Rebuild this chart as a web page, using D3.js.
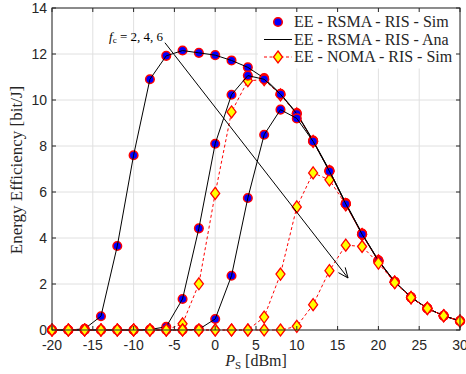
<!DOCTYPE html>
<html>
<head>
<meta charset="utf-8">
<script src="https://cdn.jsdelivr.net/npm/d3@7"></script>
<style>
  body { margin: 0; background: #fff; }
  svg text { font-family: "Liberation Sans", Arial, sans-serif; }
  .serif { font-family: "Liberation Serif", "Times New Roman", serif; }
</style>
</head>
<body>
<div id="chart"></div>
<script>
// transmit power in dBm
var powers = [-20, -18, -16, -14, -12, -10, -8, -6, -4, -2, 0, 2, 4, 6, 8, 10, 12, 14, 16, 18, 20, 22, 24, 26, 28, 30];

// RSMA (sim + analytic), one list per carrier frequency
var rsma_fc2 = [0, 0, 0.05, 0.6, 3.65, 7.6, 10.9, 11.92, 12.15, 12.05, 11.95, 11.72, 11.42, 10.95, 10.27, 9.43, 8.24, 6.94, 5.52, 4.19, 3.03, 2.1, 1.42, 0.94, 0.62, 0.39];
var rsma_fc4 = [0, 0, 0, 0, 0, 0, 0.02, 0.14, 1.35, 4.42, 8.1, 10.23, 11.06, 10.9, 10.25, 9.4, 8.22, 6.92, 5.5, 4.18, 3.02, 2.1, 1.42, 0.94, 0.62, 0.39];
var rsma_fc6 = [0, 0, 0, 0, 0, 0, 0, 0, 0, 0.03, 0.48, 2.36, 5.74, 8.49, 9.58, 9.2, 8.2, 6.9, 5.48, 4.16, 3.0, 2.09, 1.42, 0.94, 0.62, 0.39];

// NOMA sim
var noma_fc2 = [0, 0, 0, 0, 0, 0, 0, 0, 0.27, 2.01, 5.94, 9.48, 10.84, 10.88, 10.22, 9.4, 8.2, 6.9, 5.45, 4.15, 3.0, 2.08, 1.41, 0.94, 0.62, 0.39];
var noma_fc4 = [0, 0, 0, 0, 0, 0, 0, 0, 0, 0, 0, 0, 0, 0.56, 2.43, 5.35, 6.83, 6.53, 5.45, 4.15, 3.0, 2.08, 1.41, 0.94, 0.62, 0.39];
var noma_fc6 = [0, 0, 0, 0, 0, 0, 0, 0, 0, 0, 0, 0, 0, 0, 0, 0.16, 1.1, 2.58, 3.69, 3.63, 2.91, 2.06, 1.41, 0.94, 0.62, 0.39];

var xTicks = [-20, -15, -10, -5, 0, 5, 10, 15, 20, 25, 30];
var yTicks = [0, 2, 4, 6, 8, 10, 12, 14];
var legendLabels = ["EE - RSMA - RIS - Sim", "EE - RSMA - RIS - Ana", "EE - NOMA - RIS - Sim"];

var width = 466, height = 374;
var pL = 52, pR = 460, pT = 8, pB = 330;

var x = d3.scaleLinear().domain([-20, 30]).range([pL, pR]);
var y = d3.scaleLinear().domain([0, 14]).range([pB, pT]);

var svg = d3.select("#chart").append("svg")
    .attr("width", width)
    .attr("height", height);

// grid
svg.append("g").selectAll("line").data(xTicks).enter().append("line")
    .attr("x1", d => x(d)).attr("x2", d => x(d))
    .attr("y1", pT).attr("y2", pB)
    .attr("stroke", "#e0e0e0").attr("stroke-width", 1);
svg.append("g").selectAll("line").data(yTicks).enter().append("line")
    .attr("x1", pL).attr("x2", pR)
    .attr("y1", d => y(d)).attr("y2", d => y(d))
    .attr("stroke", "#e0e0e0").attr("stroke-width", 1);

// legend background (drawn before data so markers stay on top)
svg.append("rect")
    .attr("x", 258).attr("y", pT + 0.5)
    .attr("width", pR - 258 - 0.5).attr("height", 60)
    .attr("fill", "#fff");

var line = d3.line()
    .x((d, i) => x(powers[i]))
    .y(d => y(d));

function drawCircles(vals) {
    svg.append("g").selectAll("circle").data(vals).enter().append("circle")
        .attr("cx", (d, i) => x(powers[i]))
        .attr("cy", d => y(d))
        .attr("r", 4.3)
        .attr("fill", "#0000ff")
        .attr("stroke", "#ff0000")
        .attr("stroke-width", 1.5);
}

function diamondPath(cx, cy) {
    return "M" + cx + "," + (cy - 6) + "L" + (cx + 4.5) + "," + cy +
        "L" + cx + "," + (cy + 6) + "L" + (cx - 4.5) + "," + cy + "Z";
}

function drawNoma(vals) {
    svg.append("path")
        .attr("d", line(vals))
        .attr("fill", "none")
        .attr("stroke", "#ff0000")
        .attr("stroke-width", 1)
        .attr("stroke-dasharray", "3,2.5");
    svg.append("g").selectAll("path").data(vals).enter().append("path")
        .attr("d", (d, i) => diamondPath(x(powers[i]), y(d)))
        .attr("fill", "#ffff00")
        .attr("stroke", "#ff0000")
        .attr("stroke-width", 1.3);
}

function drawAna(vals) {
    svg.append("path")
        .attr("d", line(vals))
        .attr("fill", "none")
        .attr("stroke", "#000")
        .attr("stroke-width", 1);
}

[[rsma_fc2, noma_fc2], [rsma_fc4, noma_fc4], [rsma_fc6, noma_fc6]].forEach(function (pair) {
    drawCircles(pair[0]);
    drawAna(pair[0]);
    drawNoma(pair[1]);
});

// box + inward ticks
var axisColor = "#262626";
svg.append("rect")
    .attr("x", pL).attr("y", pT)
    .attr("width", pR - pL).attr("height", pB - pT)
    .attr("fill", "none").attr("stroke", axisColor).attr("stroke-width", 1);

var tk = 4;
xTicks.forEach(function (t) {
    svg.append("line").attr("x1", x(t)).attr("x2", x(t)).attr("y1", pB).attr("y2", pB - tk).attr("stroke", axisColor);
    svg.append("line").attr("x1", x(t)).attr("x2", x(t)).attr("y1", pT).attr("y2", pT + tk).attr("stroke", axisColor);
    svg.append("text").attr("x", x(t)).attr("y", pB + 20)
        .attr("text-anchor", "middle").attr("font-size", 14).attr("fill", axisColor)
        .text(t < 0 ? "-" + Math.abs(t) : t);
});
yTicks.forEach(function (t) {
    svg.append("line").attr("x1", pL).attr("x2", pL + tk).attr("y1", y(t)).attr("y2", y(t)).attr("stroke", axisColor);
    svg.append("line").attr("x1", pR).attr("x2", pR - tk).attr("y1", y(t)).attr("y2", y(t)).attr("stroke", axisColor);
    svg.append("text").attr("x", pL - 5).attr("y", y(t) + 5)
        .attr("text-anchor", "end").attr("font-size", 14).attr("fill", axisColor)
        .text(t);
});

// axis labels
svg.append("text").attr("class", "serif")
    .attr("transform", "translate(22," + 170 + ") rotate(-90)")
    .attr("text-anchor", "middle").attr("font-size", 17).attr("fill", axisColor)
    .text("Energy Efficiency [bit/J]");

var xl = svg.append("text").attr("class", "serif")
    .attr("x", 256).attr("y", 366)
    .attr("text-anchor", "middle").attr("font-size", 16).attr("fill", axisColor);
xl.append("tspan").attr("font-style", "italic").text("P");
xl.append("tspan").attr("font-size", 11).attr("dy", 3).text("S");
xl.append("tspan").attr("dy", -3).text(" [dBm]");

// annotation
var ann = svg.append("text").attr("class", "serif")
    .attr("x", 109).attr("y", 41)
    .attr("font-size", 13).attr("fill", "#000");
ann.append("tspan").attr("font-style", "italic").text("f");
ann.append("tspan").attr("font-size", 9).attr("dy", 2).text("c");
ann.append("tspan").attr("dy", -2).text(" = 2, 4, 6");

var ax0 = x(-6.16), ay0 = y(12.49), ax1 = x(16.28), ay1 = y(2.26);
svg.append("line").attr("x1", ax0).attr("y1", ay0).attr("x2", ax1).attr("y2", ay1)
    .attr("stroke", "#000").attr("stroke-width", 1);
var ang = Math.atan2(ay1 - ay0, ax1 - ax0);
[-0.4, 0.4].forEach(function (da) {
    svg.append("line")
        .attr("x1", ax1).attr("y1", ay1)
        .attr("x2", ax1 - 11 * Math.cos(ang + da))
        .attr("y2", ay1 - 11 * Math.sin(ang + da))
        .attr("stroke", "#000").attr("stroke-width", 1);
});

// legend
var lg = svg.append("g");
var rows = [22, 39.5, 57];
legendLabels.forEach(function (lab, i) {
    lg.append("text").attr("class", "serif")
        .attr("x", 294).attr("y", rows[i] + 5)
        .attr("font-size", 16).attr("fill", axisColor)
        .text(lab);
});
lg.append("circle").attr("cx", 278).attr("cy", rows[0]).attr("r", 4.3)
    .attr("fill", "#0000ff").attr("stroke", "#ff0000").attr("stroke-width", 1.5);
lg.append("line").attr("x1", 264).attr("x2", 292).attr("y1", rows[1]).attr("y2", rows[1])
    .attr("stroke", "#000").attr("stroke-width", 1);
lg.append("line").attr("x1", 264).attr("x2", 292).attr("y1", rows[2]).attr("y2", rows[2])
    .attr("stroke", "#ff0000").attr("stroke-width", 1).attr("stroke-dasharray", "3,2.5");
lg.append("path").attr("d", diamondPath(278, rows[2]))
    .attr("fill", "#ffff00").attr("stroke", "#ff0000").attr("stroke-width", 1.3);
</script>
</body>
</html>
